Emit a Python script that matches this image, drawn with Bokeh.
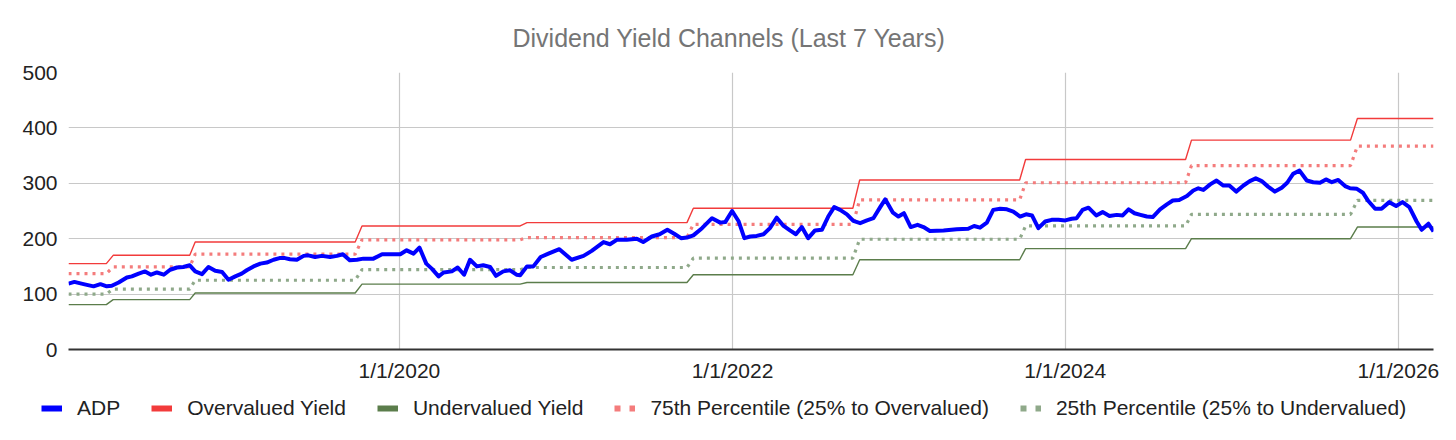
import pandas as pd
from bokeh.plotting import figure
from bokeh.layouts import column
from bokeh.models import (Range1d, FixedTicker, CustomJSTickFormatter, Legend,
                          LegendItem, ColumnDataSource)
from bokeh.embed import file_html
from bokeh.resources import INLINE

# ---------------- data ----------------
title_text = "Dividend Yield Channels (Last 7 Years)"

x_tick_dates = ["2020-01-01", "2022-01-01", "2024-01-01", "2026-01-01"]
x_tick_labels = ["1/1/2020", "1/1/2022", "1/1/2024", "1/1/2026"]
y_ticks = [0, 100, 200, 300, 400, 500]

adp_dates = [
    "2018-01-05", "2018-01-18", "2018-02-07", "2018-03-01", "2018-03-16", "2018-03-30",
    "2018-04-10", "2018-04-25", "2018-05-13", "2018-05-24", "2018-06-08", "2018-06-22",
    "2018-07-05", "2018-07-18", "2018-08-02", "2018-08-16", "2018-08-31", "2018-09-14",
    "2018-09-28", "2018-10-10", "2018-10-25", "2018-11-08", "2018-11-23", "2018-12-08",
    "2018-12-22", "2019-01-06", "2019-01-20", "2019-01-31", "2019-02-15", "2019-03-02",
    "2019-03-16", "2019-03-31", "2019-04-13", "2019-04-25", "2019-05-06", "2019-05-21",
    "2019-06-05", "2019-06-15", "2019-06-30", "2019-07-15", "2019-08-02", "2019-08-17",
    "2019-08-30", "2019-09-14", "2019-09-30", "2019-10-14", "2019-11-05", "2019-11-24",
    "2019-12-12", "2020-01-03", "2020-01-17", "2020-02-01", "2020-02-14", "2020-02-29",
    "2020-03-12", "2020-03-27", "2020-04-07", "2020-04-25", "2020-05-08", "2020-05-22",
    "2020-06-04", "2020-06-19", "2020-07-03", "2020-07-18", "2020-07-31", "2020-08-16",
    "2020-08-31", "2020-09-14", "2020-09-22", "2020-10-07", "2020-10-21", "2020-11-06",
    "2020-11-23", "2020-12-17", "2021-01-13", "2021-02-08", "2021-02-26", "2021-03-24",
    "2021-04-07", "2021-04-22", "2021-05-14", "2021-06-05", "2021-06-19", "2021-07-08",
    "2021-07-25", "2021-08-11", "2021-08-26", "2021-09-10", "2021-09-23", "2021-10-07",
    "2021-10-26", "2021-11-17", "2021-12-05", "2021-12-16", "2021-12-31", "2022-01-14",
    "2022-01-27", "2022-02-09", "2022-02-23", "2022-03-10", "2022-03-24", "2022-04-08",
    "2022-04-23", "2022-05-07", "2022-05-20", "2022-06-02", "2022-06-16", "2022-07-01",
    "2022-07-16", "2022-07-30", "2022-08-12", "2022-08-25", "2022-09-09", "2022-09-23",
    "2022-10-08", "2022-10-23", "2022-11-06", "2022-11-21", "2022-12-02", "2022-12-19",
    "2022-12-31", "2023-01-12", "2023-01-27", "2023-02-11", "2023-02-24", "2023-03-10",
    "2023-04-09", "2023-05-08", "2023-06-02", "2023-06-15", "2023-06-28", "2023-07-13",
    "2023-07-27", "2023-08-11", "2023-08-26", "2023-09-09", "2023-09-24", "2023-10-07",
    "2023-10-20", "2023-11-03", "2023-11-18", "2023-12-02", "2023-12-17", "2024-01-01",
    "2024-01-15", "2024-01-26", "2024-02-08", "2024-02-21", "2024-03-09", "2024-03-23",
    "2024-04-07", "2024-04-23", "2024-05-06", "2024-05-19", "2024-06-01", "2024-06-14",
    "2024-06-28", "2024-07-11", "2024-07-27", "2024-08-11", "2024-08-24", "2024-09-07",
    "2024-09-24", "2024-10-08", "2024-10-19", "2024-10-30", "2024-11-14", "2024-11-28",
    "2024-12-13", "2024-12-26", "2025-01-10", "2025-01-26", "2025-02-09", "2025-02-22",
    "2025-03-07", "2025-03-21", "2025-04-05", "2025-04-20", "2025-05-02", "2025-05-15",
    "2025-05-29", "2025-06-14", "2025-06-28", "2025-07-13", "2025-07-26", "2025-08-08",
    "2025-08-22", "2025-09-06", "2025-09-17", "2025-10-02", "2025-10-15", "2025-10-27",
    "2025-11-11", "2025-11-25", "2025-12-12", "2025-12-27", "2026-01-10", "2026-01-25",
    "2026-02-10", "2026-02-21", "2026-03-08", "2026-03-19",
]
adp_values = [
    119, 122, 118, 114, 118, 114,
    115, 121, 130, 132, 137, 141,
    135, 139, 135, 144, 148, 149,
    152, 141, 136, 149, 142, 140,
    126, 132, 137, 143, 150, 155,
    157, 162, 165, 165, 163, 162,
    169, 170, 167, 169, 167, 169,
    172, 161, 162, 164, 164, 172,
    172, 172, 179, 173, 184, 155,
    146, 132, 139, 141, 148, 135,
    162, 150, 152, 149, 133, 141,
    143, 135, 134, 150, 150, 167,
    173, 181, 162, 169, 178, 194,
    190, 198, 198, 200, 194, 204,
    208, 216, 209, 201, 202, 206,
    219, 237, 229, 230, 250, 232,
    201, 204, 205, 208, 219, 238,
    223, 215, 208, 221, 201, 215,
    216, 240, 257, 252, 244, 232,
    228, 233, 237, 257, 271, 247,
    240, 246, 221, 225, 221, 214,
    215, 217, 218, 223, 220, 229,
    252, 254, 253, 249, 240, 244,
    242, 219, 231, 234, 234, 233,
    236, 237, 252, 256, 242, 248,
    241, 243, 242, 253, 246, 243,
    240, 239, 253, 262, 269, 270,
    277, 287, 291, 288, 298, 305,
    296, 296, 285, 296, 304, 309,
    304, 294, 285, 292, 301, 317,
    323, 305, 302, 301, 307, 302,
    306, 295, 291, 290, 283, 268,
    254, 254, 266, 259, 266, 257,
    231, 216, 227, 213,
]

# yield-channel levels: one level per dividend year, changing between the dates below
band_start = "2018-01-05"
band_end = "2026-03-19"
change_from = ["2018-03-29", "2018-09-28", "2019-09-26", "2020-09-22", "2021-09-23",
               "2022-09-22", "2023-09-23", "2024-09-21", "2025-09-18"]
change_to = ["2018-04-13", "2018-10-10", "2019-10-11", "2020-10-07", "2021-10-07",
             "2022-10-07", "2023-10-06", "2024-10-04", "2025-10-03"]
overvalued = [155, 170, 194, 223, 229, 255, 306, 343, 378, 417]
pct75 = [137, 149, 172, 198, 202, 226, 270, 301, 332, 367]
pct25 = [100, 109, 125, 144, 148, 165, 199, 223, 244, 269]
undervalued = [81, 90, 102, 118, 121, 135, 162, 182, 200, 221]

series_names = ["ADP", "Overvalued Yield", "Undervalued Yield",
                "75th Percentile (25% to Overvalued)", "25th Percentile (25% to Undervalued)"]

# ---------------- styles ----------------
FONT = "Liberation Sans"
C_ADP = "#0000ff"
C_OVER = "#f23b3b"
C_UNDER = "#5b7d4b"
C_P75 = "#f47c7c"
C_P25 = "#8fa98a"


def step_series(levels):
    xs = [band_start]
    ys = [levels[0]]
    for i, (a, b) in enumerate(zip(change_from, change_to)):
        xs += [a, b]
        ys += [levels[i], levels[i + 1]]
    xs.append(band_end)
    ys.append(levels[-1])
    return ColumnDataSource(dict(x=pd.to_datetime(xs), y=ys))


src_adp = ColumnDataSource(dict(x=pd.to_datetime(adp_dates), y=adp_values))
src_over = step_series(overvalued)
src_under = step_series(undervalued)
src_75 = step_series(pct75)
src_25 = step_series(pct25)

# ---------------- main chart ----------------
p = figure(width=1456, height=385, x_axis_type="datetime",
           output_backend="svg", toolbar_location=None,
           min_border_left=68, min_border_right=23,
           min_border_top=72, min_border_bottom=36)
p.frame_align = False
p.x_range = Range1d(pd.Timestamp(band_start), pd.Timestamp(band_end))
p.y_range = Range1d(0, 500)
p.outline_line_color = None
p.background_fill_color = "white"
p.border_fill_color = "white"

p.title.text = title_text
p.title.align = "left"
p.title.offset = 444
p.title.text_font = FONT
p.title.text_font_size = "25px"
p.title.text_font_style = "normal"
p.title.text_color = "#757575"
p.title.standoff = 42

tick_ms = [pd.Timestamp(d).value / 1e6 for d in x_tick_dates]
xt = FixedTicker(ticks=tick_ms, minor_ticks=[])
p.xaxis.ticker = xt
p.xgrid.ticker = xt
p.xaxis.formatter = CustomJSTickFormatter(
    args=dict(tvals=tick_ms, tlabels=x_tick_labels),
    code="""
    let best = -1, bd = 1e18;
    for (let i = 0; i < tvals.length; i++) {
        const d = Math.abs(tvals[i] - tick);
        if (d < bd) { bd = d; best = i; }
    }
    return (best >= 0 && bd < 86400000) ? tlabels[best] : "";
    """)
yt = FixedTicker(ticks=y_ticks, minor_ticks=[])
p.yaxis.ticker = yt
p.ygrid.ticker = yt

for ax in (p.xaxis, p.yaxis):
    ax.major_label_text_font = FONT
    ax.major_label_text_font_size = "21px"
    ax.major_label_text_color = "#222222"
    ax.major_tick_line_color = None
    ax.minor_tick_line_color = None
    ax.major_tick_out = 0
    ax.major_tick_in = 0
p.xaxis.axis_line_color = "#333333"
p.xaxis.axis_line_width = 2
p.yaxis.axis_line_color = None
p.xaxis.major_label_standoff = 9
p.yaxis.major_label_standoff = 11

for g in (p.xgrid, p.ygrid):
    g.grid_line_color = "#c8c8c8"
    g.grid_line_width = 1.2

p.line("x", "y", source=src_under, line_color=C_UNDER, line_width=1.4)
p.line("x", "y", source=src_over, line_color=C_OVER, line_width=1.4)
p.line("x", "y", source=src_75, line_color=C_P75, line_width=3.2, line_dash="3 5")
p.line("x", "y", source=src_25, line_color=C_P25, line_width=3.2, line_dash="3 5")
p.line("x", "y", source=src_adp, line_color=C_ADP, line_width=4, line_join="round")

# ---------------- legend strip ----------------
lf = figure(width=1456, height=55, x_axis_type="datetime",
            output_backend="svg", toolbar_location=None,
            x_axis_location=None, y_axis_location=None,
            min_border=0, min_border_left=0, min_border_right=0,
            min_border_top=0, min_border_bottom=0)
lf.frame_align = False
lf.x_range = Range1d(pd.Timestamp(band_start), pd.Timestamp(band_end))
lf.y_range = Range1d(1000, 1001)   # series kept out of view: only legend swatches show
lf.outline_line_color = None
lf.grid.visible = False
lf.background_fill_color = "white"
lf.border_fill_color = "white"

# same series, styled as the reference's legend swatches
l_adp = lf.line("x", "y", source=src_adp, line_color=C_ADP, line_width=6)
l_over = lf.line("x", "y", source=src_over, line_color=C_OVER, line_width=6)
l_under = lf.line("x", "y", source=src_under, line_color=C_UNDER, line_width=6)
l_75 = lf.line("x", "y", source=src_75, line_color=C_P75, line_width=6, line_dash="6 9")
l_25 = lf.line("x", "y", source=src_25, line_color=C_P25, line_width=6, line_dash="6 9")

legend = Legend(items=[
    LegendItem(label=series_names[0], renderers=[l_adp]),
    LegendItem(label=series_names[1], renderers=[l_over]),
    LegendItem(label=series_names[2], renderers=[l_under]),
    LegendItem(label=series_names[3], renderers=[l_75]),
    LegendItem(label=series_names[4], renderers=[l_25]),
], orientation="horizontal", location=(41, 20))
legend.label_text_font = FONT
legend.label_text_font_size = "21px"
legend.label_text_color = "#222222"
legend.glyph_width = 21
legend.glyph_height = 20
legend.label_standoff = 15
legend.spacing = 31
legend.padding = 0
legend.margin = 0
legend.border_line_color = None
legend.background_fill_alpha = 0
lf.add_layout(legend, "center")

layout = column(p, lf, spacing=0)
open("out.html", "w").write(file_html(layout, INLINE))
